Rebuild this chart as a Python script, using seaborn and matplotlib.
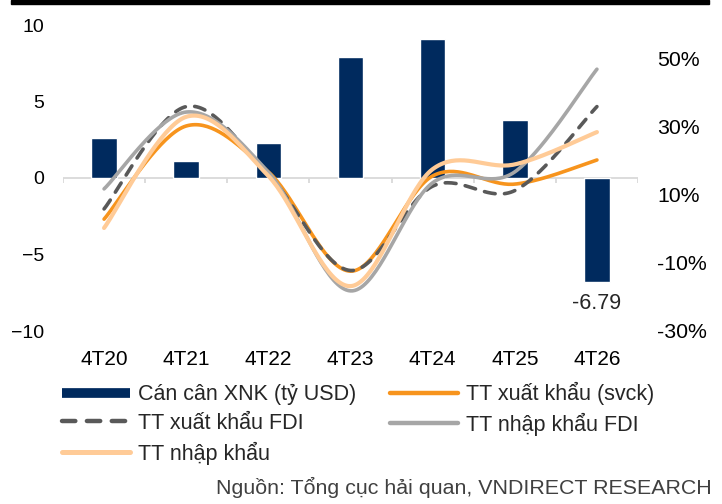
import numpy as np
import matplotlib
matplotlib.use("Agg")
import matplotlib.pyplot as plt
from matplotlib.lines import Line2D
from matplotlib.patches import Rectangle
import seaborn as sns

# -----------------------------
# Data
# -----------------------------
periods = ["4T20", "4T21", "4T22", "4T23", "4T24", "4T25", "4T26"]
balance = [2.6, 1.1, 2.3, 7.9, 9.1, 3.8, -6.79]          # ty USD (left axis)
export_growth = [2.9, 30.3, 16.8, -12.4, 15.6, 13.2, 20.3]   # % yoy
export_fdi = [5.9, 36.0, 16.0, -12.2, 12.6, 11.3, 36.0]
import_fdi = [11.8, 34.4, 16.7, -18.2, 13.6, 16.8, 47.0]
import_growth = [0.3, 33.0, 15.6, -16.8, 17.6, 19.0, 28.5]

bar_color = "#002A5E"
line_styles = {
    "TT xuất khẩu (svck)": dict(data=export_growth, color="#F7941D", lw=2.6, dash=None),
    "TT xuất khẩu FDI": dict(data=export_fdi, color="#595959", lw=2.6, dash=(3, 2.6)),
    "TT nhập khẩu FDI": dict(data=import_fdi, color="#A6A6A6", lw=2.6, dash=None),
    "TT nhập khẩu": dict(data=import_growth, color="#FFCB97", lw=3.0, dash=None),
}


def smooth(vals, n=40):
    # Excel-style smoothed line (Catmull-Rom bezier through the points)
    pts = np.column_stack([np.arange(len(vals)), np.asarray(vals, float)])
    out = []
    for i in range(len(pts) - 1):
        p0 = pts[max(i - 1, 0)]
        p1 = pts[i]
        p2 = pts[i + 1]
        p3 = pts[min(i + 2, len(pts) - 1)]
        c1 = p1 + (p2 - p0) / 6
        c2 = p2 - (p3 - p1) / 6
        t = np.linspace(0, 1, n)[:, None]
        seg = (1 - t) ** 3 * p1 + 3 * (1 - t) ** 2 * t * c1 + 3 * (1 - t) * t ** 2 * c2 + t ** 3 * p2
        out.append(seg if i == 0 else seg[1:])
    return np.vstack(out)


sns.set_style("white")
plt.rcParams["font.family"] = ["Liberation Sans", "DejaVu Sans"]

fig = plt.figure(figsize=(7.22, 5.04), dpi=100)
ax = fig.add_axes([63 / 722, 1 - 331 / 504, 575 / 722, 306 / 504])

# -----------------------------
# Bars (left axis)
# -----------------------------
sns.barplot(x=periods, y=balance, color=bar_color, width=0.31, ax=ax,
            saturation=1, zorder=2)
ax.set_xlim(-0.5, len(periods) - 0.5)
ax.set_ylim(-10, 10)
ax.set_yticks([-10, -5, 0, 5, 10])
ax.set_xlabel("")
ax.set_ylabel("")
ax.tick_params(axis="y", length=0, pad=13.3, labelsize=14, colors="black")
ax.tick_params(axis="x", length=0, pad=14, labelsize=15, colors="black")
for s in ax.spines.values():
    s.set_visible(False)

labels = [""] * (len(balance) - 1) + [f"{balance[-1]:.2f}"]
ax.bar_label(ax.containers[0], labels=labels, padding=8, fontsize=15.5)

# zero axis line with category ticks
ax.axhline(0, color="#D9D9D9", lw=1.3, zorder=1)
ax.vlines(np.arange(len(periods) + 1) - 0.5, -0.3, 0, color="#D9D9D9", lw=1.3, zorder=1)

# -----------------------------
# Lines (right axis)
# -----------------------------
ax2 = ax.twinx()
for name, st in line_styles.items():
    curve = smooth(st["data"])
    sns.lineplot(x=curve[:, 0], y=curve[:, 1], ax=ax2, color=st["color"],
                 lw=st["lw"], sort=False, estimator=None)
    line = ax2.lines[-1]
    if st["dash"]:
        line.set_dashes(st["dash"])
        line.set_dash_capstyle("round")
    else:
        line.set_solid_capstyle("round")

ax2.set_ylim(-30, 60)
ax2.set_yticks([-30, -10, 10, 30, 50])
ax2.set_yticklabels([f"{v}%" for v in [-30, -10, 10, 30, 50]])
ax2.tick_params(axis="y", length=0, pad=13.7, labelsize=15.3, colors="black")
ax2.set_ylabel("")
for s in ax2.spines.values():
    s.set_visible(False)

# -----------------------------
# Legend
# -----------------------------
h_bar = Line2D([], [], color=bar_color, lw=7, solid_capstyle="butt")
h = {}
for name, st in line_styles.items():
    kw = dict(color=st["color"], lw=st["lw"] + 0.6)
    if st["dash"]:
        h[name] = Line2D([], [], dashes=st["dash"], dash_capstyle="round", **kw)
    else:
        h[name] = Line2D([], [], solid_capstyle="round", **kw)

handles = [h_bar, h["TT xuất khẩu FDI"], h["TT nhập khẩu"],
           h["TT xuất khẩu (svck)"], h["TT nhập khẩu FDI"]]
names = ["Cán cân XNK (tỷ USD)", "TT xuất khẩu FDI", "TT nhập khẩu",
         "TT xuất khẩu (svck)", "TT nhập khẩu FDI"]
fig.legend(handles, names, loc="upper left", bbox_to_anchor=(62 / 722, 1 - 382 / 504),
           ncol=2, frameon=False, fontsize=15.5, handlelength=3.15, handletextpad=0.37,
           columnspacing=1.6, labelspacing=0.36, borderpad=0, borderaxespad=0)

# -----------------------------
# Source and top rule
# -----------------------------
fig.text(712 / 722, 1 - 487 / 504, "Nguồn: Tổng cục hải quan, VNDIRECT RESEARCH",
         ha="right", va="center", fontsize=15.4, color="#404040")
fig.patches.append(Rectangle((11 / 722, 1 - 4 / 504), 698 / 722, 4 / 504,
                             transform=fig.transFigure, color="black", zorder=5))

fig.savefig("out.png", dpi=100)
